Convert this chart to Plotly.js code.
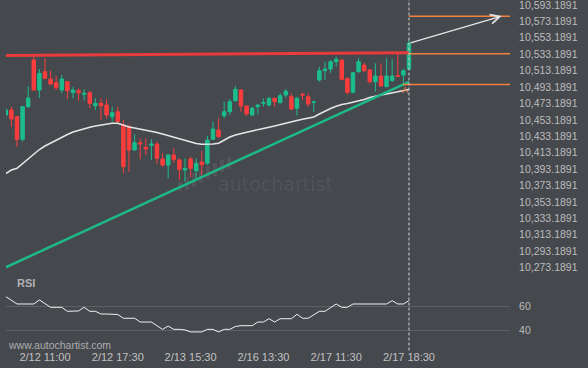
<!DOCTYPE html>
<html><head><meta charset="utf-8">
<script src="https://cdn.plot.ly/plotly-3.0.1.min.js"></script>
<style>html,body{margin:0;padding:0;background:#45484d;}#chart{width:588px;height:368px;}</style>
</head><body><div id="chart"></div>
<script>
// ---- data (30-min candles) ----
const openVals = [
10459.09,10465.19,10457.02,10429.47,10469.21,10526.14,10489.56,10511.88,10502.97,10498.46,
10489.56,10499.68,10486.28,10488.71,10484.32,10486.28,10470.43,10473.36,10471.28,10457.02,
10463.11,10446.90,10445.00,10416.42,10425.32,10419.71,10422.15,10423.73,10405.45,10398.14,
10410.32,10404.23,10392.04,10405.45,10391.19,10401.79,10400.21,10429.47,10440.80,10458.24,
10463.11,10476.53,10489.56,10470.06,10459.09,10469.21,10473.36,10471.28,10479.45,10474.09,
10483.47,10481.39,10467.26,10484.32,10481.39,10474.60,10501.76,10513.09,10515.17,10524.07,
10526.14,10503.83,10486.76,10511.88,10520.04,10513.95,10499.68,10506.63,10493.59,10500.90,
10507.20,10507.85,10515.00];
const highVals = [
10467.62,10469.21,10457.87,10470.06,10494.44,10531.02,10515.17,10528.58,10513.09,10506.63,
10507.85,10500.50,10493.59,10491.64,10490.42,10488.71,10479.45,10479.45,10478.23,10469.21,
10469.21,10453.00,10447.50,10435.56,10430.69,10430.69,10429.47,10426.54,10412.40,10410.90,
10418.49,10406.30,10406.30,10408.25,10406.30,10415.20,10433.49,10450.93,10455.07,10475.31,
10478.60,10494.44,10490.42,10470.50,10469.21,10472.00,10479.45,10481.39,10480.00,10485.54,
10491.00,10485.54,10481.39,10486.28,10485.54,10475.60,10517.97,10524.07,10526.14,10530.20,
10526.60,10504.30,10511.10,10528.58,10522.85,10514.80,10522.12,10522.12,10528.21,10527.00,
10533.40,10515.50,10551.37];
const lowVals = [
10457.87,10444.83,10420.08,10426.54,10467.62,10488.35,10479.81,10502.97,10495.66,10489.56,
10485.54,10478.60,10479.45,10476.53,10476.53,10467.26,10465.19,10453.00,10455.07,10450.93,
10449.71,10388.02,10389.97,10416.00,10405.08,10410.32,10404.23,10399.35,10396.06,10381.92,
10400.94,10379.85,10377.78,10383.14,10379.85,10385.95,10398.14,10428.61,10431.91,10455.07,
10459.09,10475.31,10463.11,10458.00,10457.87,10460.00,10469.21,10469.21,10469.21,10473.36,
10480.00,10465.19,10458.24,10477.50,10469.21,10463.11,10499.68,10501.76,10510.50,10517.97,
10501.00,10484.32,10485.54,10510.50,10511.88,10497.73,10487.49,10493.59,10493.00,10499.68,
10505.90,10494.00,10514.00];
const closeVals = [
10465.19,10454.22,10429.47,10469.21,10479.81,10489.56,10509.92,10503.83,10496.88,10492.37,
10502.97,10488.71,10489.56,10486.28,10485.54,10473.36,10473.36,10470.43,10459.09,10461.89,
10450.93,10396.06,10416.42,10425.32,10423.73,10417.64,10423.73,10406.30,10398.14,10410.32,
10405.08,10392.89,10394.11,10394.11,10400.21,10398.50,10428.61,10442.03,10432.64,10463.11,
10475.31,10490.42,10470.06,10460.31,10467.26,10471.28,10474.09,10479.45,10475.31,10482.61,
10488.00,10466.40,10479.45,10483.47,10472.50,10475.31,10513.09,10515.17,10524.07,10527.00,
10502.61,10486.76,10510.66,10524.07,10513.09,10499.68,10506.63,10494.44,10506.63,10506.63,
10506.40,10513.09,10546.50];
const maVals = [
10387.77,10392.04,10394.11,10399.96,10406.06,10412.15,10417.03,10421.30,10424.94,10428.61,
10432.03,10435.32,10438.37,10440.44,10442.88,10444.10,10445.69,10446.90,10448.12,10448.97,
10448.97,10446.29,10444.46,10443.24,10442.02,10440.80,10439.22,10437.75,10435.93,10434.10,
10432.27,10429.83,10428.00,10426.42,10424.35,10423.50,10423.37,10423.73,10424.71,10428.61,
10432.27,10434.71,10436.78,10438.00,10439.59,10441.42,10442.64,10444.22,10445.69,10447.51,
10449.34,10451.17,10452.39,10453.85,10455.19,10456.64,10460.31,10463.95,10467.00,10469.68,
10471.88,10473.10,10474.56,10475.78,10477.98,10480.42,10482.25,10483.47,10484.69,10485.91,
10487.13,10488.71,10490.18];
const rsiVals = [
68.6,65.3,62.3,62.3,62.3,62.3,65.7,62.7,59.5,59.5,
59.5,56.1,56.1,56.4,59.5,56.1,56.1,53.8,53.8,53.8,
53.4,50.2,50.2,50.2,47.0,47.0,47.0,43.9,40.8,43.6,
40.8,40.8,40.3,38.6,38.6,38.6,40.8,40.8,38.6,40.8,
40.8,43.2,43.9,43.9,43.9,47.0,47.0,49.8,47.0,49.8,
49.8,49.8,53.6,50.2,50.2,53.0,56.1,56.1,59.3,62.3,
59.5,59.5,62.3,62.3,62.3,62.3,62.3,62.3,62.3,65.1,
62.3,62.3,65.1];
const tickIdx = [7, 20, 33, 46, 59, 72];
const tickLabels = ['2/12 11:00','2/12 17:30','2/13 15:30','2/16 13:30','2/17 11:30','2/17 18:30'];
const priceTicks = [10273.1891,10293.1891,10313.1891,10333.1891,10353.1891,10373.1891,10393.1891,
  10413.1891,10433.1891,10453.1891,10473.1891,10493.1891,10513.1891,10533.1891,10553.1891,10573.1891,10593.1891];
const rsiTicks = [40, 60];
// pattern lines (index, price)
const resistX = [0, 72], resistY = [10531.62, 10535.04];
const supportX = [0, 72], supportY = [10273.43, 10499.44];
const levelStart = [72, 72, 70.9];
const levelPrice = [10579.4, 10533.8, 10496.4];
const arrowFrom = [72, 10546.5], arrowTo = [88.55, 10579.8];
const markerPos = [71.3, 10489.6];

// ---- styling ----
const BG = '#45484d';
const GREEN = '#1bbd8b', RED = '#f93d3d', ORANGE = '#f0813f';
const X_RANGE = [0.04, 90.04];
const idx = closeVals.map((_, i) => i);

const traces = [
  {type:'scatter', mode:'lines', x:resistX, y:resistY, line:{color:'#e83b3b', width:3}, hoverinfo:'skip'},
  {type:'scatter', mode:'lines', x:maVals.map((_, i) => i), y:maVals, line:{color:'#e6e6e6', width:1.5}, hoverinfo:'skip'},
  {type:'candlestick', x:idx, open:openVals, high:highVals, low:lowVals, close:closeVals,
   increasing:{line:{color:GREEN, width:1}, fillcolor:GREEN},
   decreasing:{line:{color:RED, width:1}, fillcolor:RED},
   whiskerwidth:0, hoverinfo:'skip'},
  {type:'scatter', mode:'lines', x:supportX, y:supportY, line:{color:'#1db987', width:2.5}, hoverinfo:'skip'},
  {type:'scatter', mode:'lines', x:rsiVals.map((_, i) => i), y:rsiVals, yaxis:'y2', line:{color:'#f2f2f2', width:1}, hoverinfo:'skip'}
];
levelPrice.forEach((p, k) => traces.push({type:'scatter', mode:'lines', x:[levelStart[k], X_RANGE[1]], y:[p, p],
  line:{color:ORANGE, width:1.5}, hoverinfo:'skip', cliponaxis:false}));

// decoration helpers (pixel -> paper) for watermark logo
const PL = 6, PW = 504, PT = 0, PH = 345;
const px = v => (v - PL) / PW, py = v => (PT + PH - v) / PH;
const logoBars = [[180,182,191],[187,177,190],[194,173,187],[201,170,183],[208,166,179],[215,163,176],[222,160,172],[229,157,169]];
const shapes = [
  {type:'line', xref:'x', yref:'paper', x0:72, x1:72, y0:-0.016, y1:1, line:{color:'#d0d0d0', width:1, dash:'3px,2px'}, layer:'above'}
];
logoBars.forEach(b => shapes.push({type:'rect', xref:'paper', yref:'paper', x0:px(b[0]-2), x1:px(b[0]+2), y0:py(b[2]), y1:py(b[1]),
  fillcolor:'rgba(255,255,255,0.07)', line:{width:0}, layer:'below'}));

const layout = {
  width:588, height:368, paper_bgcolor:BG, plot_bgcolor:BG,
  margin:{l:PL, r:588-PL-PW, t:PT, b:368-PH},
  showlegend:false, hovermode:false,
  font:{family:'"Liberation Sans", Arial, sans-serif', color:'#bdbdbd', size:11},
  boxgap:0.12,
  xaxis:{range:X_RANGE, anchor:'y2', tickmode:'array', tickvals:tickIdx, ticktext:tickLabels,
    showgrid:false, zeroline:false, showline:false, ticks:'outside', ticklen:2, tickcolor:'rgba(0,0,0,0)',
    rangeslider:{visible:false}, tickfont:{size:11, color:'#c2c2c2'}},
  yaxis:{domain:[(PH-275)/PH, 1], range:[10264.03, 10599.29], side:'right', tickmode:'array', tickvals:priceTicks,
    tickformat:',.4f', showgrid:false, zeroline:false, showline:false, ticks:'outside', ticklen:6,
    ticklabeloverflow:'allow', tickcolor:'rgba(0,0,0,0)', tickfont:{size:10.5, color:'#bcbcbc'}},
  yaxis2:{domain:[0, (PH-285)/PH], range:[27.54, 78.39], side:'right', tickmode:'array', tickvals:rsiTicks,
    showgrid:true, gridcolor:'#5d6065', gridwidth:1, zeroline:false, showline:false, ticks:'outside', ticklen:6,
    tickcolor:'rgba(0,0,0,0)', tickfont:{size:10.5, color:'#bcbcbc'}},
  shapes:shapes,
  annotations:[
    {x:arrowTo[0], y:arrowTo[1], ax:arrowFrom[0], ay:arrowFrom[1], xref:'x', yref:'y', axref:'x', ayref:'y',
     text:'', showarrow:true, arrowhead:5, arrowsize:1.4, arrowwidth:1.3, arrowcolor:'#e4e4e4', standoff:0, startstandoff:0},
    {x:markerPos[0], y:markerPos[1], xref:'x', yref:'y', text:'A', showarrow:false, font:{size:9, color:ORANGE}},
    {x:px(275), y:py(184), xref:'paper', yref:'paper', text:'autochartist', showarrow:false,
     font:{family:'"DejaVu Sans", sans-serif', size:19, color:'rgba(255,255,255,0.08)'}},
    {x:px(15), y:py(291), xref:'paper', yref:'paper', xanchor:'left', text:'<b>RSI</b>', showarrow:false,
     font:{size:11, color:'#b4b4b4'}},
    {x:px(6), y:py(345), xref:'paper', yref:'paper', xanchor:'left', yanchor:'middle', text:'www.autochartist.com', showarrow:false,
     font:{size:10.5, color:'#adadad'}}
  ]
};
Plotly.newPlot('chart', traces, layout, {staticPlot:true, displayModeBar:false});
</script></body></html>
